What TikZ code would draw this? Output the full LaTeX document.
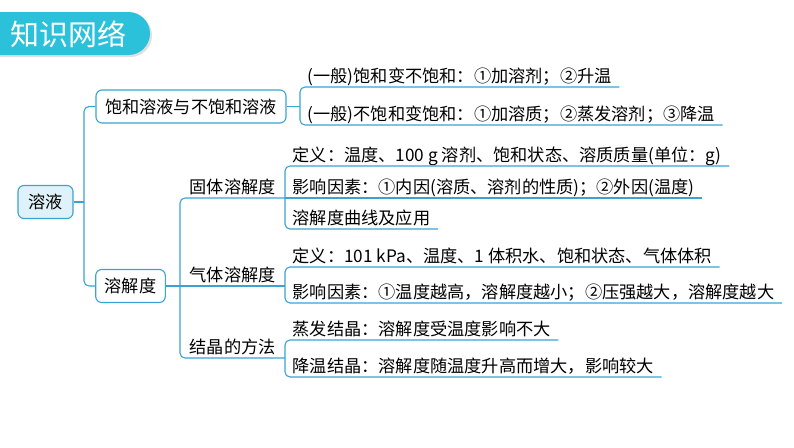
\documentclass[tikz,border=0pt]{standalone}
\usepackage{fontspec}
\setmainfont{Noto Sans CJK SC}
\usepackage{tikz}

\definecolor{linkblue}{HTML}{3AA3D2}
\definecolor{headcyan}{HTML}{2BC1DB}
\definecolor{rootfill}{HTML}{DFF2FA}

\begin{document}
\begin{tikzpicture}[x=1pt,y=-1pt,
	link/.style={draw=linkblue,line width=1.1pt},
	topic/.style={shape=rectangle,draw=linkblue,line width=1.1pt,rounded corners=6pt,
		minimum height=33pt,inner xsep=9pt,fill=white,font=\fontsize{17.2}{20}\selectfont},
	leaf/.style={anchor=south west,inner xsep=7.5pt,inner ysep=0pt,text height=13pt,
		text depth=4.5pt,font=\fontsize{17.2}{20}\selectfont},
	group/.style={leaf,minimum width=105pt}]
	
	\useasboundingbox (0,0) rectangle (794,447);
	
	% title bar
	\fill[black!12] (0,14) -- (130.5,14) arc[start angle=-90,end angle=90,radius=21.5] -- (0,57) -- cycle;
	\fill[headcyan] (0,12) -- (128.5,12) arc[start angle=-90,end angle=90,radius=21.5] -- (0,55) -- cycle;
	\node[text=white,font=\fontsize{29}{32}\selectfont] (title) at (68.5,34) {知识网络};
	
	\node[topic,fill=rootfill,minimum width=55pt] (sol) at (45.5,202) {溶液};
	\node[topic] (sat) at (191,106.5) {饱和溶液与不饱和溶液};
	\node[topic] (sub) at (130.5,286) {溶解度};
	
	\node[leaf] (s1) at (300,87)  {(一般)饱和变不饱和：①加溶剂；②升温};
	\node[leaf] (s2) at (300,125) {(一般)不饱和变饱和：①加溶质；②蒸发溶剂；③降温};
	
	\node[group] (solid) at (180,198) {固体溶解度};
	\node[group] (gas)   at (180,286) {气体溶解度};
	\node[group] (cryst) at (180,358) {结晶的方法};
	
	\node[leaf] (d1) at (285,166) {定义：温度、100 g 溶剂、饱和状态、溶质质量(单位：g)};
	\node[leaf] (d2) at (285,198) {影响因素：①内因(溶质、溶剂的性质)；②外因(温度)};
	\node[leaf] (d3) at (285,229) {溶解度曲线及应用};
	\node[leaf] (g1) at (285,267) {定义：101 kPa、温度、1 体积水、饱和状态、气体体积};
	\node[leaf] (g2) at (285,303) {影响因素：①温度越高，溶解度越小；②压强越大，溶解度越大};
	\node[leaf] (k1) at (285,340) {蒸发结晶：溶解度受温度影响不大};
	\node[leaf] (k2) at (285,377) {降温结晶：溶解度随温度升高而增大，影响较大};
	
	\coordinate (j0) at (84,202);
	
	\draw[link] (sol.east) -- (j0);
	\draw[link,rounded corners=5pt] (sat.west) -| (j0) |- (sub.west);
	
	\draw[link] (sat.east) -- (sat.east -| s1.south west);
	\draw[link,rounded corners=5pt] (s1.south east) -- (s1.south west) |- (s2.south east);
	
	\draw[link,rounded corners=5pt] (solid.south east) -- (solid.south west) |- (cryst.south east);
	\draw[link] (sub.east) -- (gas.south east);
	
	\draw[link,rounded corners=5pt] (d1.south east) -- (d1.south west) |- (d3.south east);
	\draw[link] (d2.south west) -- (d2.south east);
	\draw[link,rounded corners=5pt] (g1.south east) -- (g1.south west) |- (g2.south east);
	\draw[link,rounded corners=5pt] (k1.south east) -- (k1.south west) |- (k2.south east);
	
\end{tikzpicture}
\end{document}
